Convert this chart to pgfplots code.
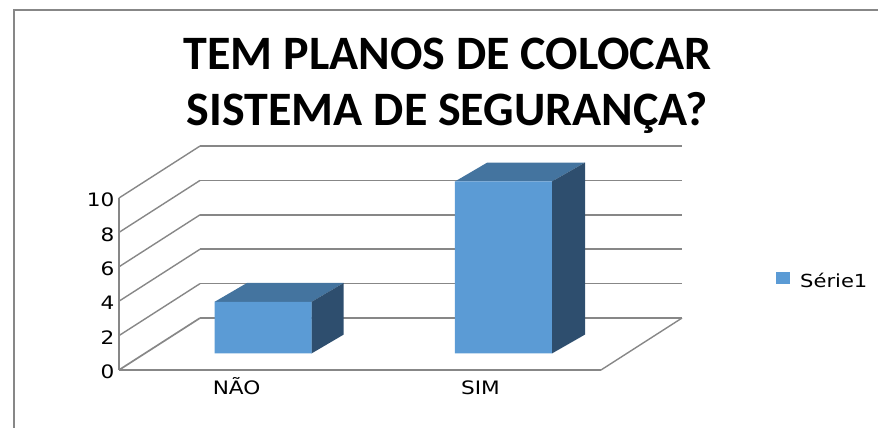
\documentclass[border=0pt]{standalone}
\usepackage{pgfplots}
\usepackage{fontspec}
\pgfplotsset{compat=1.18}
\setmainfont{DejaVu Sans}
\newfontfamily\titlefont{Carlito}
\newfontfamily\widefont[FakeStretch=1.17]{DejaVu Sans}
\definecolor{barfront}{HTML}{5B9BD5}
\definecolor{bartop}{HTML}{44749F}
\definecolor{barside}{HTML}{2E4E6E}
\definecolor{wallgray}{HTML}{878787}
\begin{document}
\begin{tikzpicture}[x=1pt,y=1pt]
\path[use as bounding box] (0,0) rectangle (878,428);
% outer chart frame
\draw[wallgray,line width=2pt] (13.5,0) -- (13.5,418) -- (878,418);
% title
\node[align=center,font=\titlefont\fontsize{48}{56}\selectfont\bfseries,anchor=center] at (447.5,342)
  {TEM PLANOS DE COLOCAR\\SISTEMA DE SEGURANÇA?};
\begin{axis}[
  at={(119pt,58pt)}, anchor=south west,
  scale only axis, width=482pt, height=172pt,
  xmin=-0.5, xmax=1.5, ymin=0, ymax=10,
  clip=false,
  axis lines*=left,
  axis line style={wallgray,line width=1.8pt,-},
  xtick={-0.012,1.0}, xticklabels={NÃO,SIM},
  ytick={0,2,4,6,8,10},
  tick style={draw=none},
  major tick length=0pt,
  /pgf/number format/assume math mode=true,
  ticklabel style={font=\widefont\fontsize{18.5}{20}\selectfont,text=black},
  yticklabel style={xshift=-1pt,yshift=-2pt},
  xticklabel style={yshift=-7pt,text height=14pt},
  legend style={at={(1.363,0.517)},anchor=west,draw=none,fill=none,
    font=\widefont\fontsize{18}{20}\selectfont,inner sep=0pt,
    legend cell align=left},
  legend image code/.code={\fill[barfront] (0pt,-19pt) rectangle (14pt,-7pt);
    \path (22pt,-7pt);},
]
% back wall gridlines, one depth step behind the front plane
\addplot[wallgray,line width=1.6pt,forget plot] coordinates {(-0.164,13.02) (1.836,13.02)};
\addplot[wallgray,line width=1.6pt,forget plot] coordinates {(-0.164,11.02) (1.836,11.02)};
\addplot[wallgray,line width=1.6pt,forget plot] coordinates {(-0.164,9.02) (1.836,9.02)};
\addplot[wallgray,line width=1.6pt,forget plot] coordinates {(-0.164,7.02) (1.836,7.02)};
\addplot[wallgray,line width=1.6pt,forget plot] coordinates {(-0.164,5.02) (1.836,5.02)};
\addplot[wallgray,line width=1.9pt,forget plot] coordinates {(-0.164,3.02) (1.836,3.02)};
% side wall gridlines
\addplot[wallgray,line width=1.4pt,forget plot] coordinates {(-0.5,10) (-0.164,13.02)};
\addplot[wallgray,line width=1.4pt,forget plot] coordinates {(-0.5,8) (-0.164,11.02)};
\addplot[wallgray,line width=1.4pt,forget plot] coordinates {(-0.5,6) (-0.164,9.02)};
\addplot[wallgray,line width=1.4pt,forget plot] coordinates {(-0.5,4) (-0.164,7.02)};
\addplot[wallgray,line width=1.4pt,forget plot] coordinates {(-0.5,2) (-0.164,5.02)};
\addplot[wallgray,line width=1.7pt,forget plot] coordinates {(-0.5,0) (-0.164,3.02)};
% right floor edge
\addplot[wallgray,line width=1.4pt,forget plot] coordinates {(1.5,0) (1.836,3.02)};
% top faces of the two bars
\addplot[fill=bartop,draw=none,forget plot] coordinates {(-0.1037,3.96) (0.2987,3.96) (0.4324,5.06) (0.031,5.06)} --cycle;
\addplot[fill=bartop,draw=none,forget plot] coordinates {(0.894,10.96) (1.2965,10.96) (1.4336,12.06) (1.028,12.06)} --cycle;
% side faces of the two bars
\addplot[fill=barside,draw=none,forget plot] coordinates {(0.2987,0.96) (0.4324,2.06) (0.4324,5.06) (0.2987,3.96)} --cycle;
\addplot[fill=barside,draw=none,forget plot] coordinates {(1.2965,0.96) (1.4336,2.06) (1.4336,12.06) (1.2965,10.96)} --cycle;
% front faces carry the values
\addplot[ybar,bar width=97pt,bar shift=0pt,fill=barfront,draw=none,xshift=23.5pt,yshift=16.5pt]
  coordinates {(0,3) (0.9975,10)};
\addlegendentry{Série1}
\end{axis}
\end{tikzpicture}
\end{document}
